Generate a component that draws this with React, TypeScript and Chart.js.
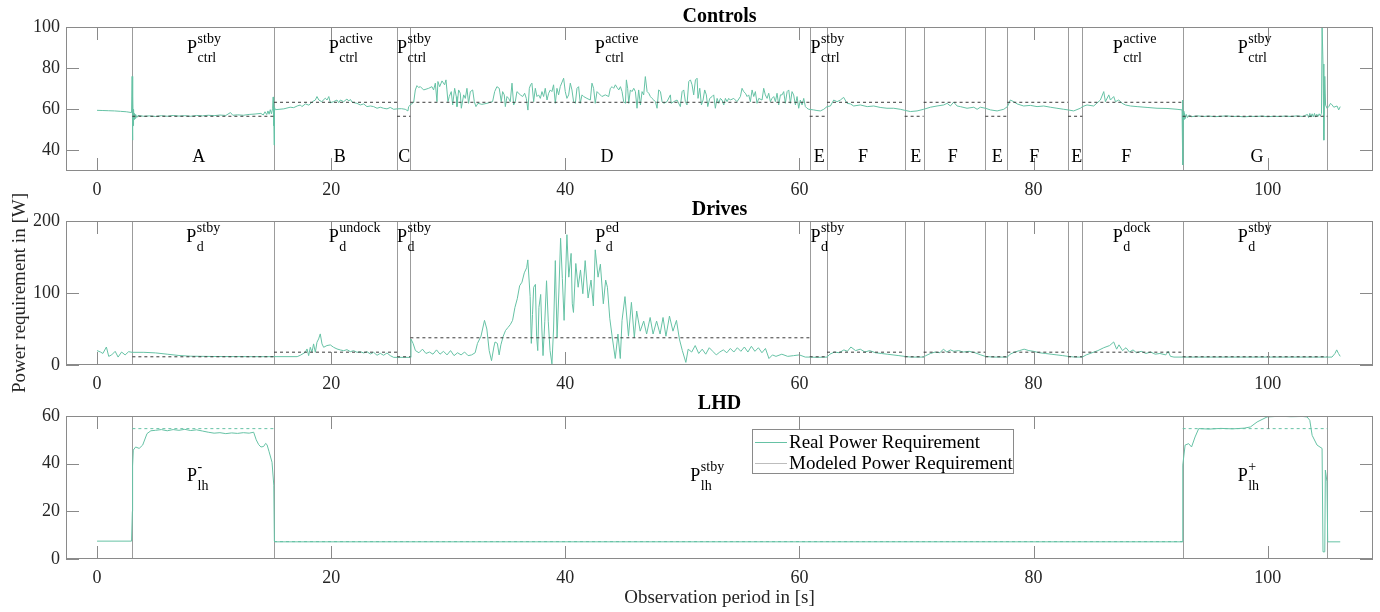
import React, { useEffect, useRef } from "react";
import { Chart, registerables } from "chart.js";

Chart.register(...registerables);

const SERIF = '"Liberation Serif", "Times New Roman", Times, serif';
const REAL_COLOR = "#66c2a5";
const MODEL_COLOR = "#3a3a3a";
const LHD_MODEL_COLOR = "#66c2a5";
const LEGEND_MODEL_COLOR = "#bdbdbd";
const AXIS_COLOR = "#8a8a8a";
const PHASE_COLOR = "#9c9c9c";
const TEXT_COLOR = "#262626";

// ---------- axes ----------
const X_MIN = -2.65;
const X_MAX = 109;
const xTicks = [0, 20, 40, 60, 80, 100];
const ctrlYTicks = [40, 60, 80, 100];
const driveYTicks = [0, 100, 200];
const lhdYTicks = [0, 20, 40, 60];

// ---------- phases ----------
const phaseBounds = [3.02, 15.12, 25.63, 26.77, 60.88, 62.36, 68.99, 70.61, 75.88, 77.76, 82.95, 84.17, 92.74, 105.1];
const ctrlModelLevels = [56.6, 63.4, 56.6, 63.4, 56.6, 63.4, 56.6, 63.4, 56.6, 63.4, 56.6, 63.4, 56.6];
const driveModelLevels = [11.4, 17.8, 11.4, 37.8, 11.4, 17.8, 11.4, 17.8, 11.4, 17.8, 11.4, 17.8, 11.4];
const lhdBounds = [3.02, 15.12, 92.74, 105.1];
const lhdModelLevels = [54.7, 7.3, 54.7];

const phaseLetters = ["A", "B", "C", "D", "E", "F", "E", "F", "E", "F", "E", "F", "G"];
const phaseLetterX = [8.68, 20.73, 26.25, 43.57, 61.7, 65.44, 69.95, 73.1, 76.9, 80.07, 83.7, 87.93, 99.1];

const ctrlLabelX = [7.69, 19.79, 25.63, 42.51, 60.94, 86.76, 97.44];
const ctrlLabelSup = ["stby", "active", "stby", "active", "stby", "active", "stby"];
const driveLabelX = [7.63, 19.79, 25.63, 42.57, 60.94, 86.76, 97.44];
const driveLabelSup = ["stby", "undock", "stby", "ed", "stby", "dock", "stby"];
const lhdLabelX = [7.69, 50.68, 97.44];
const lhdLabelSup = ["-", "stby", "+"];

// ---------- Controls real power ----------
const ctrlTime = [
  0, 0.5, 1.0, 1.5, 2.0, 2.5, 2.95, 3.0, 3.03, 3.06, 3.09, 3.12, 3.16, 3.2, 3.25, 3.3, 3.4, 3.5,
  4.0, 4.5, 5.0, 5.5, 6.0, 6.5, 7.0, 7.5, 8.0, 8.5, 9.0, 9.5, 10.0, 10.5, 11.0, 11.4, 11.6, 12.0,
  12.5, 13.0, 13.5, 14.0, 14.2, 14.35, 14.5, 14.6, 14.7, 14.8, 14.9, 15.0, 15.05, 15.08, 15.1, 15.13,
  15.16, 15.23, 15.95, 16.5, 16.8, 17.1, 17.37, 17.5, 17.8, 18.1, 18.4, 18.65, 18.79, 18.95, 19.2,
  19.5, 19.65, 19.8, 19.93, 20.21, 20.5, 20.65, 20.78, 21.07, 21.35, 21.5, 21.64, 21.8, 22.2, 22.49,
  22.78, 23.06, 23.35, 23.63, 23.92, 24.2, 24.48, 24.77, 25.05, 25.34, 25.62, 26.0, 26.33, 26.56,
  26.62, 26.82, 27.05,
  27.19, 27.33, 27.47, 27.62, 27.9, 28.33, 28.61, 28.75, 28.9, 29.04, 29.12, 29.27, 29.47, 29.69,
  29.81, 29.89, 29.98, 30.09, 30.26, 30.38, 30.55, 30.69, 30.75, 30.89, 31.03, 31.12, 31.32, 31.46,
  31.6, 31.74, 31.89, 32.09, 32.23, 32.37, 32.54, 32.88, 33.31, 33.6, 33.79, 33.97, 34.16, 34.36,
  34.53, 34.65, 34.79, 34.88, 35.02, 35.16, 35.3, 35.45, 35.59, 35.73, 35.87, 36.16, 36.36, 36.53,
  36.67, 36.81, 36.93, 37.04, 37.15, 37.3, 37.44, 37.58, 37.72, 37.87, 38.01, 38.15, 38.29, 38.44,
  38.58, 38.72, 38.86, 39.0, 39.15, 39.29, 39.43, 39.57, 39.86, 40.0, 40.14, 40.29, 40.43, 40.57,
  40.71, 40.86, 41.0, 41.14, 41.28, 41.43, 41.57, 41.85, 42.14, 42.28, 42.42, 42.56, 42.71, 42.85,
  43.13, 43.42,
  43.71, 43.85, 44.0, 44.14, 44.28, 44.42, 44.57, 44.71, 44.85, 44.99, 45.14, 45.22, 45.33, 45.42,
  45.56, 45.7, 45.85, 45.99, 46.13, 46.27, 46.42, 46.56, 46.7, 46.84, 46.99, 47.13, 47.27, 47.41,
  47.56, 47.7, 47.84, 47.98, 48.13, 48.27, 48.41, 48.69, 48.98, 49.04, 49.26, 49.55, 49.83, 49.98,
  50.12, 50.26, 50.4, 50.55, 50.69, 50.83, 50.97, 51.12, 51.26, 51.34, 51.49, 51.63, 51.77, 51.91,
  52.05, 52.17, 52.34, 52.54, 52.68, 52.82, 52.97, 53.11, 53.25, 53.39, 53.54, 53.68, 53.82, 53.96,
  54.1, 54.39, 54.67, 54.96, 55.1, 55.24, 55.39, 55.53, 55.67, 55.81, 55.96, 56.1, 56.24, 56.38,
  56.53, 56.81, 56.95, 57.09, 57.24, 57.38, 57.52, 57.66, 57.81, 57.95, 58.09, 58.23, 58.38, 58.52,
  58.66, 58.8, 58.95, 59.09, 59.23, 59.37, 59.51, 59.66, 59.8, 59.94, 60.08, 60.23, 60.37, 60.51,
  60.65, 60.8,
  61.22, 61.5, 61.79, 62.08, 62.36, 62.65, 62.93, 63.22, 63.5, 63.78, 64.07, 64.36, 64.64, 65.2,
  65.8, 66.35, 66.9, 67.48, 68.05, 68.62, 69.0, 69.48, 70.05, 70.62, 71.19, 71.76, 72.33, 72.62,
  72.9, 73.18, 73.47, 73.75, 74.32, 74.9, 75.18, 75.46, 75.89, 76.32, 76.89, 77.46, 77.77, 78.02,
  78.31, 78.6, 79.16, 79.73, 80.3, 80.87, 81.44, 82.0, 82.58, 82.95, 83.43, 84.0, 84.18, 84.57,
  85.14, 85.71, 86.0, 86.14, 86.43, 86.57, 86.85, 87.0, 87.28, 87.57, 87.85, 88.28, 88.85, 89.7,
  90.55, 91.4, 92.26, 92.69, 92.73, 92.76, 92.8, 92.85, 92.9, 92.97, 93.05, 93.15, 93.3, 93.5,
  94.0, 94.5, 95.0, 95.5, 96.0, 96.5, 97.0, 97.5, 98.0, 98.5, 99.0, 99.5, 100.0, 100.5, 101.0,
  101.5, 102.0, 102.5, 103.0, 103.4, 103.5, 103.6, 103.7, 103.8, 103.9, 104.0, 104.1, 104.2, 104.3,
  104.4, 104.5, 104.6, 104.65, 104.73, 104.8, 104.88, 104.95, 105.08, 105.22, 105.37, 105.51, 105.65,
  105.93, 106.07, 106.2,
];
const ctrlPower = [
  59.5, 59.4, 59.3, 59.2, 59.0, 58.8, 58.4, 76.0, 45.0, 66.0, 52.0, 60.0, 55.0, 58.0, 55.5, 57.5, 56.0, 57.0,
  56.6, 56.8, 56.5, 56.9, 56.6, 57.0, 56.7, 56.9, 56.6, 57.0, 56.8, 57.1, 56.9, 57.2, 57.0, 58.4, 57.1, 57.3,
  57.1, 57.5, 57.7, 58.0, 57.2, 58.8, 57.4, 59.2, 57.6, 59.8, 57.8, 60.5, 66.0, 52.0, 63.0, 42.6,
  61.0, 59.8, 60.2, 61.0, 60.8, 61.6, 62.1, 61.3, 62.6, 62.0, 63.7, 64.5, 66.2, 64.5, 63.7,
  65.4, 64.5, 66.2, 63.2, 63.7, 64.5, 63.2, 64.5, 63.7, 65.0, 64.0, 64.8, 63.4, 62.9, 62.1,
  62.6, 61.3, 61.6, 61.3, 60.5, 61.0, 60.5, 60.2, 60.9, 60.0, 60.2, 60.3, 60.0, 59.2,
  61.3, 62.4, 63.4,
  69.4, 71.5, 70.6, 71.0, 69.4, 70.2, 71.0, 69.4, 72.7, 63.7, 73.5, 71.0, 73.8, 71.9,
  74.3, 69.4, 63.7, 66.2, 68.6, 62.1, 70.2, 66.2, 61.3, 69.4, 67.8, 60.5, 67.0, 65.3,
  70.2, 62.9, 68.6, 69.4, 63.7, 61.3, 62.9, 62.4, 62.9, 63.4, 63.7, 68.6, 71.0, 70.2,
  63.7, 68.6, 67.0, 61.3, 66.2, 65.3, 63.7, 72.7, 62.1, 63.7, 68.6, 67.0, 66.2, 67.8,
  65.3, 59.6, 70.2, 71.9, 72.7, 63.7, 70.2, 66.2, 67.0, 65.3, 68.6, 66.2, 70.2, 64.5,
  67.8, 69.4, 68.6, 71.9, 62.9, 70.2, 67.0, 71.0, 75.1, 68.6, 65.3, 67.0, 72.7, 69.4,
  63.7, 62.9, 70.2, 71.0, 62.9, 67.0, 66.2, 65.3, 64.5, 72.7, 70.2, 62.9, 68.6, 67.8,
  66.2, 67.0,
  66.2, 70.2, 71.0, 70.2, 71.9, 70.6, 69.4, 71.0, 68.6, 63.7, 62.9, 74.3, 70.2, 62.9,
  69.4, 68.6, 70.2, 68.6, 60.5, 69.4, 62.1, 68.6, 67.0, 75.9, 68.6, 67.8, 66.2, 65.3,
  64.5, 63.7, 60.5, 69.4, 68.6, 63.7, 62.9, 63.7, 67.0, 62.9, 63.7, 64.5, 61.3, 68.6,
  69.4, 63.7, 62.1, 73.5, 74.3, 71.9, 67.0, 74.3, 75.1, 65.3, 70.2, 62.1, 64.5, 69.4,
  67.0, 61.3, 65.3, 66.2, 67.0, 60.5, 65.3, 62.9, 65.3, 64.5, 62.1, 65.3, 63.7, 65.3,
  64.5, 65.3, 63.7, 66.2, 70.2, 68.6, 67.8, 66.2, 67.0, 63.7, 69.4, 66.2, 68.6, 62.9,
  65.3, 64.5, 70.2, 67.0, 65.3, 67.8, 63.7, 65.3, 66.2, 63.7, 67.8, 62.1, 67.0, 67.0,
  68.6, 62.9, 68.6, 69.4, 62.9, 68.6, 67.0, 62.1, 66.2, 60.5, 64.5, 62.1, 65.3, 61.3,
  60.5, 60.0,
  59.7, 59.4, 59.2, 60.0, 61.3, 61.6, 64.5, 63.7, 64.5, 65.8, 62.9, 62.6, 61.6, 62.1,
  61.3, 61.6, 60.9, 60.5, 60.5, 60.0, 59.5, 58.9, 59.2, 60.0, 61.0, 61.6, 62.1, 62.9,
  61.6, 63.5, 61.6, 61.3, 60.5, 61.0, 60.0, 61.0, 60.5, 59.7, 59.2, 60.0, 61.3, 64.5,
  63.7, 62.6, 61.6, 61.9, 61.3, 61.6, 61.0, 60.5, 60.0, 59.7, 59.2, 60.5, 61.3, 62.1,
  61.6, 64.5, 68.6, 63.7, 67.0, 64.5, 66.2, 63.7, 64.5, 62.9, 62.1, 61.6, 61.3, 60.9,
  60.5, 60.4, 60.0, 59.7, 64.5, 33.0, 59.0, 55.0, 58.0, 55.5, 57.5, 56.0, 57.2, 56.4,
  56.8, 56.5, 56.7, 56.4, 56.6, 56.8, 56.5, 56.6, 56.3, 56.6, 56.5, 56.7, 56.4, 56.6, 56.5,
  56.7, 56.5, 56.8, 56.5, 57.5, 56.0, 58.0, 56.2, 57.8, 56.3, 58.0, 56.2, 57.6, 56.5,
  57.8, 56.8, 58.0, 101.0, 82.0, 45.0, 76.0, 62.0, 60.5, 61.3, 62.9, 62.1, 61.0,
  61.6, 59.7, 61.3,
];

// ---------- Drives real power ----------
const driveTime = [
  0, 0.3, 0.5, 0.8, 1.0, 1.25, 1.55, 1.8, 2.1, 2.4, 2.7, 3.0, 4.0, 5.0, 6.0, 7.0, 8.0, 10.0, 13.0,
  17.1, 17.37, 17.79, 17.94, 18.08, 18.22, 18.36, 18.5, 18.65, 18.79, 18.93, 19.07, 19.22, 19.36,
  19.64, 19.93, 20.21, 20.5, 20.78, 21.07, 21.35, 21.64, 21.92, 22.21, 22.49, 22.78, 23.06, 23.35,
  23.63, 23.92, 24.2, 24.48, 24.77, 25.05, 25.34, 26.77,
  26.82, 27.0, 27.2, 27.5, 27.8, 28.1, 28.4, 28.7, 29.0, 29.3, 29.6, 29.9, 30.2, 30.5, 30.8, 31.1,
  31.4, 31.7, 32.0, 32.3, 32.5, 32.8, 33.1, 33.3, 33.5, 33.7, 33.9, 34.0, 34.2, 34.35, 34.5, 34.7,
  34.9, 35.1, 35.3, 35.5, 35.7, 35.9, 36.1, 36.3, 36.5, 36.7, 36.8, 37.0, 37.1, 37.2, 37.3, 37.45,
  37.55, 37.65, 37.75, 37.9, 38.0, 38.1, 38.25, 38.4, 38.55, 38.7, 38.86, 39.0, 39.15, 39.3, 39.45,
  39.6, 39.75, 39.9, 40.14, 40.3, 40.5, 40.6, 40.7, 40.9, 41.1, 41.3, 41.5, 41.7, 41.95, 42.2, 42.4,
  42.56, 42.8, 43.0, 43.25, 43.45, 43.6, 43.8, 44.0, 44.27, 44.5, 44.7, 44.85, 45.1, 45.4, 45.65,
  45.9, 46.1, 46.4, 46.7, 46.95, 47.25, 47.5, 47.8, 48.1, 48.35, 48.6, 48.9, 49.2, 49.5, 49.75,
  50.0, 50.3, 50.5, 50.8, 51.1, 51.4, 51.7, 52.0, 52.3, 52.6, 52.9, 53.2, 53.5, 53.8, 54.1, 54.4,
  54.7, 55.0, 55.3, 55.6, 55.9, 56.2, 56.5, 56.8, 57.1, 57.4, 57.7, 58.0, 58.5, 59.0, 59.5, 60.0,
  60.5, 60.88, 61.5, 62.36, 62.6, 63.0, 63.4, 63.8, 64.1, 64.4, 64.8, 65.2, 65.6, 66.0, 66.5, 67.0,
  67.5, 68.0, 68.5, 68.99, 69.5, 70.61, 70.8, 71.2, 71.6, 72.0, 72.3, 72.6, 72.9, 73.2, 73.6, 74.0,
  74.5, 75.0, 75.5, 75.88, 76.5, 77.76, 78.0, 78.4, 78.8, 79.2, 79.6, 80.0, 80.5, 81.0, 81.5, 82.0,
  82.5, 82.95, 83.5, 84.17, 84.5, 85.0, 85.5, 86.0, 86.5, 86.85, 87.1, 87.3, 87.6, 87.9, 88.2, 88.5,
  88.8, 89.2, 89.6, 90.0, 90.4, 90.8, 91.3, 91.5, 91.7, 92.0, 92.74, 95.0, 100.0, 105.0, 105.5,
  105.75, 105.9, 106.05, 106.2,
];
const drivePower = [
  20, 18, 16, 25, 12, 14, 19, 11, 18, 14, 18.5, 17.6, 17.6, 16.8, 15, 13.2, 12.2, 11.8, 11.6,
  11.6, 13.5, 17.6, 22.3, 13, 24.6, 17.6, 29.3, 17.6, 31.6, 36.2, 43.2, 29.3, 24.6,
  27, 27.9, 24.6, 22.3, 20.9, 19.9, 21.3, 18.5, 19.9, 17.6, 18.5, 16.7, 18.5, 15.3,
  17.6, 13.5, 16.2, 13.5, 16.7, 13, 10.6, 10.6,
  36, 30, 20, 17, 22, 16, 18, 15, 21, 15, 19, 14, 20, 13, 17, 14,
  18, 13, 14, 17, 30, 40, 62, 50, 20, 6, 25, 32, 30, 14, 28, 40,
  48, 52, 56, 62, 80, 92, 110, 115, 128, 135, 146, 95, 30, 70, 108, 112,
  40, 20, 80, 98, 50, 13, 60, 117, 60, 20, 1.5, 50, 145, 38, 100,
  176, 120, 62, 181, 122, 155, 85, 73, 141, 108, 132, 99, 145, 93, 118, 82,
  160, 122, 140, 85, 118, 108, 65, 40, 9, 43, 9, 62, 95, 40, 87,
  38, 75, 47, 61, 43, 66, 43, 61, 43, 66, 40, 68, 47, 62, 36,
  20, 3.6, 22, 18, 27, 16, 22, 15, 24, 19, 14, 18, 21, 17, 23, 18,
  24, 19, 25, 18, 26, 19, 24, 17, 23, 9, 14, 12, 15, 12, 13, 14,
  11, 11, 10.6, 11, 15, 18, 17, 21, 19, 25, 20, 22, 18, 20, 17, 16,
  15, 14, 13, 12, 11, 11, 13, 16, 18, 17, 22, 18, 21, 19, 20, 18,
  19, 17, 14, 12, 11, 11, 15, 18, 20, 22, 20, 19, 17, 16, 15, 14,
  13, 12, 11, 11, 14, 17, 20, 24, 27, 32, 22, 28, 20, 24, 18, 21,
  17, 19, 16, 18, 15, 16, 14, 19, 12, 11, 11, 11, 11, 11, 11,
  16, 21, 16, 12,
];

// ---------- LHD real power ----------
const lhdTime = [
  0, 2.95, 3.02, 3.04, 3.1, 3.3, 3.6, 3.9, 4.27, 4.6, 5.0, 5.5, 6.0, 6.5, 7.0, 7.5, 8.0, 8.5, 9.0,
  9.5, 10.0, 10.5, 11.0, 11.5, 12.0, 12.5, 13.0, 13.38, 13.6, 13.81, 14.0, 14.23, 14.4, 14.52, 14.7,
  14.95, 15.1, 15.15, 15.25, 92.7, 92.75, 92.95, 93.25, 93.5, 93.8, 94.11, 95.0, 96.0, 97.0, 98.0,
  98.53, 99.1, 99.95, 101.0, 102.0, 103.0, 103.37, 103.6, 103.8, 104.22, 104.65, 104.73, 104.88,
  104.93, 105.07, 105.13, 106.2,
];
const lhdPower = [
  7.5, 7.5, 20, 39, 45.7, 47, 46.4, 47.8, 52.6, 53.8, 54, 54.3, 53.8, 54.3, 54, 54.4, 53.9, 54.2, 53.7,
  53.2, 52.8, 53, 52.6, 52.9, 52.7, 53, 52.8, 53.2, 50, 48, 47, 47.2, 48.5, 48, 45,
  40.6, 31, 7.5, 7.2, 7.2, 39.4, 47.8, 48.4, 47, 51.2, 54.7, 54.5, 54.8, 54.6, 54.9,
  55.4, 57.5, 59.6, 59.9, 59.7, 59.8, 59.6, 58.2, 51.9, 47.8, 46.4, 3, 3,
  37.3, 32.4, 7.2, 7.2,
];

// ---------- helpers ----------
type Pt = { x: number; y: number | null };

function zipSeries(t: number[], p: number[]): Pt[] {
  return t.map((x, i) => ({ x, y: p[i] }));
}

function stepSegments(bounds: number[], levels: number[]): Pt[] {
  const pts: Pt[] = [];
  levels.forEach((lv, i) => {
    pts.push({ x: bounds[i], y: lv }, { x: bounds[i + 1], y: lv }, { x: bounds[i + 1], y: null });
  });
  return pts;
}

interface PanelSpec {
  title: string;
  titleBaseline: number;
  yMin: number;
  yMax: number;
  yTicks: number[];
  bounds: number[];
  real: Pt[];
  model: Pt[];
  modelColor: string;
  labelX: number[];
  labelSup: string[];
  labelSub: string;
  labelY: number;
  letters?: { x: number[]; text: string[]; y: number };
  yTitle?: string;
  xTitle?: string;
  legend?: boolean;
  padTop: number;
  xAxisH: number;
}

function drawP(ctx: CanvasRenderingContext2D, x: number, y: number, sup: string, sub: string) {
  ctx.fillStyle = "#000";
  ctx.textAlign = "left";
  ctx.textBaseline = "alphabetic";
  ctx.font = `18px ${SERIF}`;
  ctx.fillText("P", x, y);
  const w = ctx.measureText("P").width;
  ctx.font = `14px ${SERIF}`;
  ctx.fillText(sup, x + w + 0.5, y - 10);
  ctx.fillText(sub, x + w + 0.5, y + 9);
}

function makeConfig(spec: PanelSpec): any {
  const TICK = 13;
  const decor = {
    id: "panelDecor",
    beforeDatasetsDraw(chart: any) {
      const { ctx, chartArea: a, scales } = chart;
      const xs = scales.x;
      ctx.save();
      ctx.strokeStyle = PHASE_COLOR;
      ctx.lineWidth = 1;
      for (const b of spec.bounds) {
        const px = Math.round(xs.getPixelForValue(b)) + 0.5;
        ctx.beginPath();
        ctx.moveTo(px, a.top);
        ctx.lineTo(px, a.bottom);
        ctx.stroke();
      }
      ctx.restore();
    },
    afterDatasetsDraw(chart: any) {
      const { ctx, chartArea: a, scales } = chart;
      const xs = scales.x;
      const ys = scales.y;
      ctx.save();
      // box
      ctx.strokeStyle = AXIS_COLOR;
      ctx.lineWidth = 1;
      ctx.strokeRect(Math.round(a.left) + 0.5, Math.round(a.top) + 0.5, Math.round(a.right - a.left) - 1, Math.round(a.bottom - a.top) - 1);
      // inward ticks
      ctx.beginPath();
      for (const v of xTicks) {
        const px = Math.round(xs.getPixelForValue(v)) + 0.5;
        ctx.moveTo(px, a.bottom);
        ctx.lineTo(px, a.bottom - TICK);
        ctx.moveTo(px, a.top);
        ctx.lineTo(px, a.top + TICK);
      }
      for (const v of spec.yTicks) {
        const py = Math.round(ys.getPixelForValue(v)) + 0.5;
        ctx.moveTo(a.left, py);
        ctx.lineTo(a.left + TICK, py);
        ctx.moveTo(a.right, py);
        ctx.lineTo(a.right - TICK, py);
      }
      ctx.stroke();

      // phase labels
      spec.labelX.forEach((lx, i) => {
        drawP(ctx, xs.getPixelForValue(lx), ys.getPixelForValue(spec.labelY), spec.labelSup[i], spec.labelSub);
      });
      if (spec.letters) {
        ctx.fillStyle = "#000";
        ctx.font = `18px ${SERIF}`;
        ctx.textAlign = "center";
        ctx.textBaseline = "alphabetic";
        spec.letters.x.forEach((lx, i) => {
          ctx.fillText(spec.letters!.text[i], xs.getPixelForValue(lx), ys.getPixelForValue(spec.letters!.y));
        });
      }

      // title
      ctx.fillStyle = "#000";
      ctx.font = `bold 20px ${SERIF}`;
      ctx.textAlign = "center";
      ctx.textBaseline = "alphabetic";
      ctx.fillText(spec.title, (a.left + a.right) / 2, spec.titleBaseline);

      // axis titles
      ctx.fillStyle = TEXT_COLOR;
      ctx.font = `19px ${SERIF}`;
      if (spec.xTitle) {
        ctx.textAlign = "center";
        ctx.textBaseline = "middle";
        ctx.fillText(spec.xTitle, (a.left + a.right) / 2, a.bottom + 39);
      }
      if (spec.yTitle) {
        ctx.save();
        ctx.translate(20, (a.top + a.bottom) / 2);
        ctx.rotate(-Math.PI / 2);
        ctx.textAlign = "center";
        ctx.textBaseline = "middle";
        ctx.fillText(spec.yTitle, 0, 0);
        ctx.restore();
      }

      // legend
      if (spec.legend) {
        const lx = a.left + 686;
        const ly = a.top + 13;
        const w = 261;
        const h = 44;
        ctx.fillStyle = "#fff";
        ctx.fillRect(lx, ly, w, h);
        ctx.strokeStyle = AXIS_COLOR;
        ctx.strokeRect(lx + 0.5, ly + 0.5, w, h);
        const rows = [
          { label: chart.data.datasets[1].label, color: REAL_COLOR, y: ly + 13 },
          { label: chart.data.datasets[0].label, color: LEGEND_MODEL_COLOR, y: ly + 34 },
        ];
        ctx.font = `19px ${SERIF}`;
        ctx.textAlign = "left";
        ctx.textBaseline = "middle";
        for (const r of rows) {
          ctx.strokeStyle = r.color;
          ctx.beginPath();
          ctx.moveTo(lx + 3, Math.round(r.y) + 0.5);
          ctx.lineTo(lx + 35, Math.round(r.y) + 0.5);
          ctx.stroke();
          ctx.fillStyle = "#000";
          ctx.fillText(r.label, lx + 37, r.y + 1);
        }
      }
      ctx.restore();
    },
  };

  return {
    type: "line",
    data: {
      datasets: [
        {
          label: "Modeled Power Requirement",
          data: spec.model,
          borderColor: spec.modelColor,
          borderWidth: 1,
          borderDash: [3, 3],
          pointRadius: 0,
          spanGaps: false,
          tension: 0,
          fill: false,
        },
        {
          label: "Real Power Requirement",
          data: spec.real,
          borderColor: REAL_COLOR,
          borderWidth: 1,
          pointRadius: 0,
          tension: 0,
          fill: false,
        },
      ],
    },
    options: {
      animation: false,
      responsive: false,
      devicePixelRatio: 1,
      events: [],
      layout: { padding: { top: spec.padTop, right: 7, left: 0, bottom: 0 } },
      plugins: { legend: { display: false }, tooltip: { enabled: false }, title: { display: false } },
      scales: {
        x: {
          type: "linear",
          min: X_MIN,
          max: X_MAX,
          grid: { display: false, drawTicks: false },
          border: { display: false },
          afterBuildTicks: (s: any) => {
            s.ticks = xTicks.map((v) => ({ value: v }));
          },
          afterFit: (s: any) => {
            s.height = spec.xAxisH;
          },
          ticks: {
            font: { family: SERIF, size: 18 },
            color: TEXT_COLOR,
            padding: 8,
            maxRotation: 0,
            callback: (v: any) => String(v),
          },
        },
        y: {
          type: "linear",
          min: spec.yMin,
          max: spec.yMax,
          grid: { display: false, drawTicks: false },
          border: { display: false },
          afterBuildTicks: (s: any) => {
            s.ticks = spec.yTicks.map((v) => ({ value: v }));
          },
          afterFit: (s: any) => {
            s.width = 66;
          },
          ticks: {
            font: { family: SERIF, size: 18 },
            color: TEXT_COLOR,
            padding: 6,
            callback: (v: any) => String(v),
          },
        },
      },
    },
    plugins: [decor],
  };
}

const controlsSpec: PanelSpec = {
  title: "Controls",
  titleBaseline: 22,
  yMin: 30,
  yMax: 100,
  yTicks: ctrlYTicks,
  bounds: phaseBounds,
  real: zipSeries(ctrlTime, ctrlPower),
  model: stepSegments(phaseBounds, ctrlModelLevels),
  modelColor: MODEL_COLOR,
  labelX: ctrlLabelX,
  labelSup: ctrlLabelSup,
  labelSub: "ctrl",
  labelY: 87.3,
  letters: { x: phaseLetterX, text: phaseLetters, y: 34.4 },
  padTop: 27,
  xAxisH: 29,
};

const drivesSpec: PanelSpec = {
  title: "Drives",
  titleBaseline: 45,
  yMin: 0,
  yMax: 200,
  yTicks: driveYTicks,
  bounds: phaseBounds,
  real: zipSeries(driveTime, drivePower),
  model: stepSegments(phaseBounds, driveModelLevels),
  modelColor: MODEL_COLOR,
  labelX: driveLabelX,
  labelSup: driveLabelSup,
  labelSub: "d",
  labelY: 171,
  yTitle: "Power requirement in [W]",
  padTop: 51,
  xAxisH: 30,
};

const lhdSpec: PanelSpec = {
  title: "LHD",
  titleBaseline: 14,
  yMin: 0,
  yMax: 60,
  yTicks: lhdYTicks,
  bounds: lhdBounds,
  real: zipSeries(lhdTime, lhdPower),
  model: stepSegments(lhdBounds, lhdModelLevels),
  modelColor: LHD_MODEL_COLOR,
  labelX: lhdLabelX,
  labelSup: lhdLabelSup,
  labelSub: "lh",
  labelY: 32.7,
  xTitle: "Observation period in [s]",
  legend: true,
  padTop: 21,
  xAxisH: 53,
};

export default function App() {
  const c1 = useRef<HTMLCanvasElement>(null);
  const c2 = useRef<HTMLCanvasElement>(null);
  const c3 = useRef<HTMLCanvasElement>(null);

  useEffect(() => {
    const charts: Chart[] = [];
    const pairs: [HTMLCanvasElement | null, PanelSpec][] = [
      [c1.current, controlsSpec],
      [c2.current, drivesSpec],
      [c3.current, lhdSpec],
    ];
    for (const [cv, spec] of pairs) {
      if (cv) charts.push(new Chart(cv, makeConfig(spec)));
    }
    return () => charts.forEach((c) => c.destroy());
  }, []);

  return (
    <div style={{ position: "absolute", left: 0, top: 0, width: 1380, height: 612, background: "#fff", overflow: "hidden" }}>
      <canvas ref={c1} width={1380} height={200} style={{ position: "absolute", left: 0, top: 0, width: 1380, height: 200 }} />
      <canvas ref={c2} width={1380} height={225} style={{ position: "absolute", left: 0, top: 170, width: 1380, height: 225 }} />
      <canvas ref={c3} width={1380} height={217} style={{ position: "absolute", left: 0, top: 395, width: 1380, height: 217 }} />
    </div>
  );
}
